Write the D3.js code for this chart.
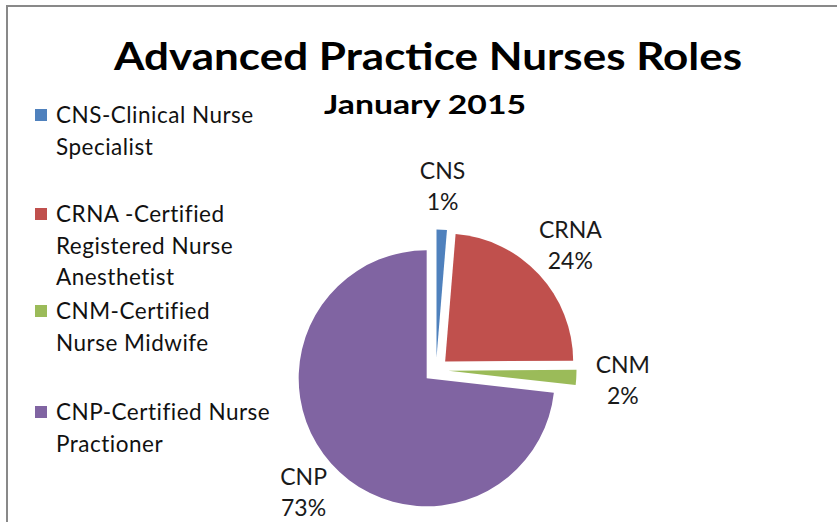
<!DOCTYPE html>
<html>
<head>
<meta charset="utf-8">
<script src="https://cdn.jsdelivr.net/npm/d3@7"></script>
<style>
  body { margin: 0; background: #fff; }
  svg { display: block; }
</style>
</head>
<body>
<div id="chart"></div>
<script>
var width = 837;
var height = 522;

// data
var codes = ["CNS", "CRNA", "CNM", "CNP"];
var values = [1.3, 23.6, 1.9, 73.2];
var legendLines = [
  ["CNS-Clinical Nurse", "Specialist"],
  ["CRNA -Certified", "Registered Nurse", "Anesthetist"],
  ["CNM-Certified", "Nurse Midwife"],
  ["CNP-Certified Nurse", "Practioner"]
];
var colors = ["#4f81bd", "#c0504d", "#9bbb59", "#8064a2"];
var title = "Advanced Practice Nurses Roles";
var subtitle = "January 2015";

var font = "Lato, 'Open Sans', sans-serif";
var cx = 436, cy = 370, radius = 128, explode = 12.5;

var svg = d3.select("#chart").append("svg")
    .attr("width", width)
    .attr("height", height)
    .attr("viewBox", [0, 0, width, height]);

// chart frame (only top and left edges show)
svg.append("rect")
    .attr("x", 7).attr("y", 6)
    .attr("width", width + 20).attr("height", height + 20)
    .attr("fill", "none")
    .attr("stroke", "#898989")
    .attr("stroke-width", 2);

svg.append("text")
    .attr("x", 428).attr("y", 70)
    .attr("text-anchor", "middle")
    .attr("font-family", font)
    .attr("font-weight", "bold")
    .attr("font-size", 38)
    .attr("textLength", 628)
    .attr("lengthAdjust", "spacingAndGlyphs")
    .attr("fill", "#000")
    .text(title);

svg.append("text")
    .attr("x", 425).attr("y", 114)
    .attr("text-anchor", "middle")
    .attr("font-family", font)
    .attr("font-weight", "bold")
    .attr("font-size", 26)
    .attr("textLength", 202)
    .attr("lengthAdjust", "spacingAndGlyphs")
    .attr("fill", "#000")
    .text(subtitle);

// legend
var legendY = [123, 222, 319, 420];
var lineH = 31.5;
var legend = svg.append("g")
  .selectAll("g")
  .data(codes)
  .join("g")
    .attr("transform", (d, i) => `translate(35,${legendY[i]})`);

legend.append("rect")
    .attr("x", 0).attr("y", -14)
    .attr("width", 12).attr("height", 12)
    .attr("fill", (d, i) => colors[i]);

legend.append("text")
    .attr("font-family", font)
    .attr("font-size", 22.5)
    .attr("letter-spacing", 0.5)
    .attr("fill", "#111")
  .selectAll("tspan")
  .data((d, i) => legendLines[i])
  .join("tspan")
    .attr("x", 21)
    .attr("y", (d, j) => j * lineH)
    .text(d => d);

// pie
var pie = d3.pie().sort(null).value(d => d);
var arcs = pie(values);
var arc = d3.arc().innerRadius(0).outerRadius(radius);
var total = d3.sum(values);
var pct = d3.format(".0%");

var g = svg.append("g").attr("transform", `translate(${cx},${cy})`);

g.selectAll("path")
  .data(arcs)
  .join("path")
    .attr("fill", (d, i) => colors[i])
    .attr("transform", d => {
      var a = (d.startAngle + d.endAngle) / 2;
      return `translate(${explode * Math.sin(a)},${-explode * Math.cos(a)})`;
    })
    .attr("d", arc);

var labelFs = 23, labelLine = 31, labelR = 160;
var labels = g.selectAll("text.lbl")
  .data(arcs)
  .join("text")
    .attr("class", "lbl")
    .attr("text-anchor", "middle")
    .attr("font-family", font)
    .attr("font-size", labelFs)
    .attr("fill", "#1a1a1a");

labels.append("tspan").attr("x", 0).attr("y", 0).text((d, i) => codes[i]);
labels.append("tspan").attr("x", 0).attr("y", labelLine).text(d => pct(d.value / total));

// put each label box just outside its slice, along the mid angle
labels.attr("transform", function(d) {
  var a = (d.startAngle + d.endAngle) / 2;
  var w = this.getBBox().width;
  var capTop = -0.72 * labelFs;
  var h = labelLine - capTop;
  var x = (labelR + w / 2 * Math.abs(Math.sin(a))) * Math.sin(a);
  var y = -labelR * Math.cos(a) - Math.cos(a) * h / 2;
  return `translate(${x},${y - (capTop + h / 2)})`;
});
</script>
</body>
</html>
